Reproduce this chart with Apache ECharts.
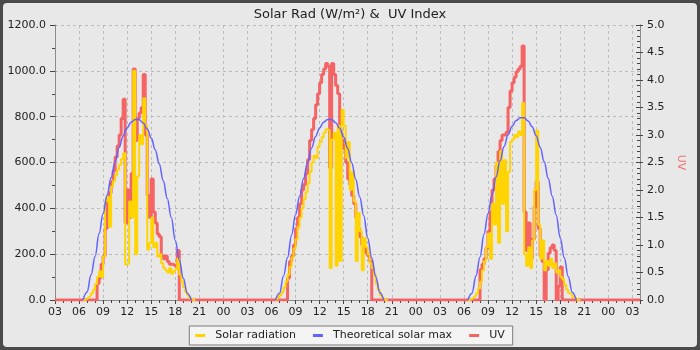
<!DOCTYPE html>
<html>
<head>
<meta charset="utf-8">
<script src="https://cdn.jsdelivr.net/npm/echarts@6/dist/echarts.min.js"></script>
<style>
  html, body { margin: 0; padding: 0; background: #4a4a4a; }
  #chart { width: 700px; height: 350px; }
</style>
</head>
<body>
<div id="chart"></div>
<script>
// Time axis is in hours counted from 00:00 of the first day.
const xStart = 3;        // 03:00, day 1
const xEnd = 75.95;      // ~03:57, day 4
const dayOffsets = [0, 24, 48];
const SLOT_START = 6.5;  // first reading of each day: 06:30
const SLOT_STEP = 0.25;  // readings every 15 minutes
const MAX_STEP = 0.5;    // theoretical curve every 30 minutes

// Solar radiation (W/m²), 06:30 .. 20:30 every 15 min
const solarDay1 = [0, 5, 12, 20, 30, 45, 70, 100, 125, 100, 190, 430, 450, 320, 495, 520, 545, 570, 590, 615,
  640, 155, 160, 430, 360, 1000, 200, 540, 720, 680, 880, 760, 220, 250, 360, 230, 250, 190, 200, 160,
  140, 130, 120, 140, 115, 125, 135, 180, 110, 80, 55, 35, 20, 8, 0, 0, 0];
const solarDay2 = [2, 12, 22, 35, 55, 80, 110, 145, 185, 225, 265, 320, 360, 400, 440, 470, 510, 560, 600, 630,
  620, 670, 690, 710, 730, 745, 740, 140, 700, 730, 150, 760, 170, 830, 760, 620, 690, 480, 560, 430,
  170, 380, 300, 130, 270, 230, 200, 160, 140, 110, 70, 45, 22, 8, 0, 0, 0];
const solarDay3 = [0, 5, 12, 20, 30, 50, 80, 130, 170, 230, 290, 180, 420, 330, 600, 250, 650, 420, 610, 300,
  560, 690, 700, 720, 710, 735, 720, 860, 200, 150, 230, 140, 260, 480, 740, 330, 180, 260, 130, 170,
  150, 180, 140, 160, 120, 130, 100, 90, 65, 45, 30, 22, 12, 8, 0, 0, 0];

// UV index, 06:30 .. 20:30 every 15 min
const uvDay1 = [0, 0, 0, 0, 0, 0, 0, 0.3, 0.4, 0.65, 0.8, 1.3, 1.85, 1.95, 2.15, 2.35, 2.6, 2.8, 3.0, 3.3,
  3.65, 1.4, 2.0, 1.5, 2.3, 4.2, 2.9, 3.3, 3.4, 3.5, 4.1, 3.0, 1.9, 1.5, 2.2, 1.6, 1.4, 1.2, 1.15, 0.8,
  0.75, 0.8, 0.7, 0.65, 0.65, 0.62, 0.62, 0.9, 0, 0, 0, 0, 0, 0, 0, 0, 0];
const uvDay2 = [0, 0, 0, 0, 0, 0, 0.4, 0.7, 0.8, 1.0, 1.3, 1.5, 1.75, 2.0, 2.1, 2.3, 2.55, 2.9, 3.1, 3.3,
  3.55, 3.75, 3.95, 4.1, 4.2, 4.3, 4.25, 2.4, 4.3, 4.1, 3.9, 3.75, 3.1, 2.9, 2.75, 2.5, 2.2, 2.1, 1.9, 1.75,
  1.5, 1.3, 1.15, 1.0, 0.95, 0.85, 0.8, 0.7, 0, 0, 0, 0, 0, 0, 0, 0, 0];
const uvDay3 = [0, 0, 0, 0, 0, 0, 0.55, 0.65, 0.75, 0.95, 1.25, 1.6, 2.0, 2.2, 2.45, 2.7, 2.9, 3.0, 3.0, 3.05,
  3.5, 3.8, 3.95, 4.05, 4.15, 4.2, 4.25, 4.62, 1.6, 0.9, 1.4, 0.75, 1.1, 1.7, 2.15, 1.3, 0.8, 0.7, 0, 0.55,
  0.85, 0.95, 1.0, 0.9, 0, 0.25, 0.6, 0, 0, 0, 0, 0, 0, 0, 0, 0, 0];

// Theoretical clear-sky maximum (W/m²), 06:30 .. 20:00 every 30 min
const maxDay1 = [0, 35, 110, 190, 290, 377, 458, 535, 605, 666, 716, 752, 776, 788, 787, 772, 746, 707, 656, 593,
  520, 443, 360, 260, 175, 95, 28, 0];
const maxDay2 = [0, 30, 105, 185, 283, 372, 453, 530, 601, 663, 714, 751, 776, 788, 788, 774, 749, 711, 661, 599,
  527, 450, 368, 270, 183, 102, 33, 0];
const maxDay3 = [0, 30, 106, 188, 287, 377, 459, 537, 608, 670, 721, 758, 783, 795, 795, 781, 756, 717, 667, 604,
  531, 454, 371, 272, 185, 103, 34, 0];

const FONT = 'DejaVu Sans';
const SOLAR_COLOR = '#ffd400';
const MAX_COLOR = '#6262ff';
const UV_COLOR = '#f46464';

function toPairs(values, day, step) {
  return values.map((v, i) => [dayOffsets[day] + SLOT_START + i * step, v]);
}

const uvData = [[xStart, 0]]
  .concat(toPairs(uvDay1, 0, SLOT_STEP), toPairs(uvDay2, 1, SLOT_STEP), toPairs(uvDay3, 2, SLOT_STEP))
  .concat([[xEnd, 0]]);

const solarDays = [solarDay1, solarDay2, solarDay3];
const maxDays = [maxDay1, maxDay2, maxDay3];

const series = [{
  name: 'UV', type: 'line', yAxisIndex: 1, step: 'end', symbol: 'none',
  itemStyle: { color: UV_COLOR }, lineStyle: { color: UV_COLOR, width: 3 },
  data: uvData
}];
solarDays.forEach((vals, d) => series.push({
  name: 'Solar radiation', type: 'line', yAxisIndex: 0, step: 'end', symbol: 'none',
  itemStyle: { color: SOLAR_COLOR }, lineStyle: { color: SOLAR_COLOR, width: 2 },
  data: toPairs(vals, d, SLOT_STEP)
}));
maxDays.forEach((vals, d) => series.push({
  name: 'Theoretical solar max', type: 'line', yAxisIndex: 0, smooth: 0.4, smoothMonotone: 'x', symbol: 'none',
  itemStyle: { color: MAX_COLOR }, lineStyle: { color: MAX_COLOR, width: 1.5 },
  data: toPairs(vals, d, MAX_STEP)
}));

const axisLineStyle = { color: '#8a8a8a', width: 1 };
const tickStyle = { color: '#444', width: 1 };
const gridLineStyle = { color: '#bcbcbc', width: 1, type: [3, 3] };
const labelStyle = { color: '#222', fontSize: 11, fontFamily: FONT };

const chart = echarts.init(document.getElementById('chart'), null, { renderer: 'canvas' });
chart.setOption({
  animation: false,
  backgroundColor: '#4a4a4a',
  graphic: [{
    type: 'rect', z: -100, silent: true,
    shape: { x: 3, y: 3, width: 694, height: 344, r: 4 },
    style: { fill: '#e8e8e8' }
  }],
  title: {
    text: 'Solar Rad (W/m²) &  UV Index',
    left: 'center', top: 3,
    textStyle: { fontFamily: FONT, fontSize: 13, fontWeight: 'normal', color: '#222' }
  },
  legend: {
    data: ['Solar radiation', 'Theoretical solar max', 'UV'],
    left: 'center', top: 326,
    icon: 'rect', itemWidth: 10, itemHeight: 3, itemGap: 17,
    padding: [4, 8, 4, 6],
    backgroundColor: '#f4f4f4', borderColor: '#7a7a7a', borderWidth: 1,
    textStyle: { fontFamily: FONT, fontSize: 11, color: '#222', padding: [0, 0, 0, 5] }
  },
  grid: { left: 55, right: 60, top: 25, bottom: 50, containLabel: false, outerBoundsMode: 'none' },
  xAxis: {
    type: 'value', min: xStart, max: xEnd, interval: 3,
    axisLine: { show: true, lineStyle: axisLineStyle },
    axisTick: { show: true, length: 4, lineStyle: tickStyle },
    minorTick: { show: true, splitNumber: 3, length: 3, lineStyle: tickStyle },
    axisLabel: {
      ...labelStyle, margin: 7, showMaxLabel: false,
      formatter: v => {
        const r = Math.round(v);
        if (Math.abs(v - r) > 1e-6) return '';
        return String(r % 24).padStart(2, '0');
      }
    },
    splitLine: { show: true, lineStyle: gridLineStyle }
  },
  yAxis: [{
    type: 'value', position: 'left', min: 0, max: 1200, interval: 200,
    name: 'Solar Rad (W/m²)', nameLocation: 'middle', nameGap: 39,
    nameTextStyle: { fontFamily: FONT, fontSize: 11, color: '#2a6ea0' },
    axisLine: { show: true, lineStyle: axisLineStyle },
    axisTick: { show: true, length: 5, lineStyle: tickStyle },
    minorTick: { show: true, splitNumber: 2, length: 3, lineStyle: tickStyle },
    axisLabel: { ...labelStyle, margin: 9, formatter: v => v.toFixed(1) },
    splitLine: { show: true, lineStyle: gridLineStyle }
  }, {
    type: 'value', position: 'right', min: 0, max: 5, interval: 0.5,
    name: 'UV', nameLocation: 'middle', nameGap: 34, nameRotate: -90,
    nameTextStyle: { fontFamily: FONT, fontSize: 11, color: '#f07070' },
    axisLine: { show: true, lineStyle: axisLineStyle },
    axisTick: { show: true, inside: true, length: 4, lineStyle: tickStyle },
    minorTick: { show: true, splitNumber: 5, length: 3, lineStyle: tickStyle },
    axisLabel: { ...labelStyle, margin: 7, formatter: v => v.toFixed(1) },
    splitLine: { show: false }
  }, {
    // outward half of the UV major ticks
    type: 'value', position: 'right', min: 0, max: 5, interval: 0.5,
    axisLine: { show: true, lineStyle: axisLineStyle },
    axisTick: { show: true, length: 3, lineStyle: tickStyle },
    axisLabel: { show: false },
    splitLine: { show: false }
  }],
  series: series
});
</script>
</body>
</html>
